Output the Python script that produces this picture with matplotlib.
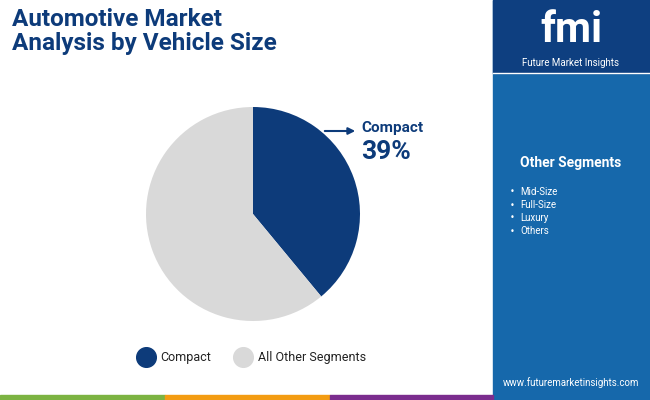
import matplotlib
matplotlib.use("Agg")
import matplotlib.pyplot as plt
from matplotlib.patches import Rectangle

categories = ["Compact", "All Other Segments"]
values = [39, 61]
colors = ["#0d3b7a", "#d9d9d9"]
other_segments = ["Mid-Size", "Full-Size", "Luxury", "Others"]

W, H = 650, 400
fig = plt.figure(figsize=(6.5, 4.0), dpi=100)
bg = fig.add_axes([0, 0, 1, 1])
bg.set_xlim(0, W); bg.set_ylim(H, 0); bg.axis("off")

# right panel
bg.add_patch(Rectangle((493, 0), 157, 400, color="#1668ab", zorder=0))
bg.add_patch(Rectangle((493, 0), 157, 73, color="#0e3f80", zorder=1))
bg.plot([493, 650], [73, 73], color="white", lw=1, zorder=2)
# bottom strip
for x0, x1, c in [(0, 165, "#7cb342"), (165, 330, "#f39c12"), (330, 493, "#7b2d8e")]:
    bg.add_patch(Rectangle((x0, 395), x1 - x0, 5, color=c, zorder=2))

bg.text(12, 8, "Automotive Market\nAnalysis by Vehicle Size", fontsize=17.5, fontweight="bold",
        color="#0d3b7a", va="top", ha="left", family="Roboto", linespacing=1.05)

bg.text(571, 30, "fmi", fontsize=30, fontweight="bold", color="white", ha="center", va="center", family="Roboto")
bg.text(571, 63, "Future Market Insights", fontsize=7, color="white", ha="center", va="center", family="Roboto")
bg.text(571, 163, "Other Segments", fontsize=10, fontweight="bold", color="white", ha="center", va="center", family="Roboto")
for i, s in enumerate(other_segments):
    y = 192 + i * 13
    bg.text(510, y, "•", fontsize=6, color="white", va="center")
    bg.text(520, y, s, fontsize=7, color="white", va="center", family="Roboto")
bg.text(571, 383, "www.futuremarketinsights.com", fontsize=7, color="white", ha="center", va="center", family="Roboto")

# pie
R = 107
ax = fig.add_axes([(253 - R) / W, 1 - (214 + R) / H, 2 * R / W, 2 * R / H])
ax.pie(values, colors=colors, startangle=90, counterclock=False, radius=1.0)
ax.set_xlim(-1, 1); ax.set_ylim(-1, 1)
ax.set_aspect("equal")

bg.annotate("", xy=(358, 131), xytext=(322, 131),
            arrowprops=dict(arrowstyle="-|>", color="#0d3b7a", lw=1.5))
bg.text(361, 128, "Compact", fontsize=11, fontweight="bold", color="#0d3b7a", va="center", family="Roboto")
bg.text(361, 152, "39%", fontsize=19, fontweight="bold", color="#0d3b7a", va="center", family="Roboto")

# legend
bg.scatter([146], [357], s=200, color=colors[0])
bg.text(160, 357, categories[0], fontsize=9, va="center", color="#222222", family="Roboto")
bg.scatter([243], [357], s=200, color=colors[1])
bg.text(258, 357, categories[1], fontsize=9, va="center", color="#222222", family="Roboto")

fig.savefig("out.png", dpi=100)
